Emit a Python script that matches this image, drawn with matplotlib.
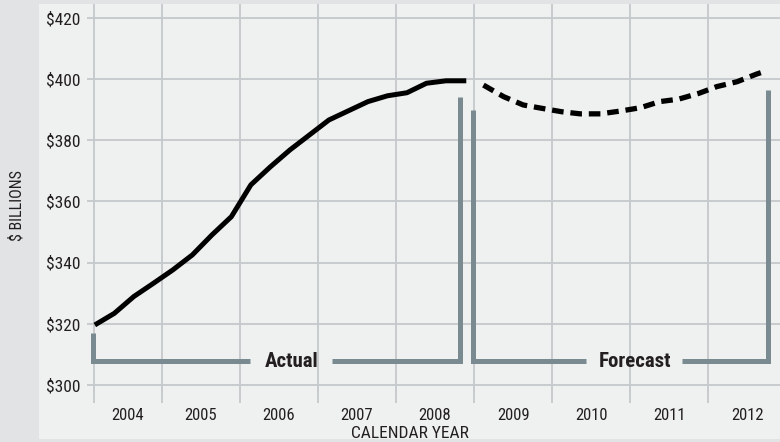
import matplotlib.pyplot as plt
from matplotlib import font_manager
from matplotlib.patches import Rectangle

# quarterly actuals and forecast, $ billions
actual_x = [2004.14, 2004.39, 2004.64, 2004.89, 2005.14, 2005.39, 2005.64, 2005.89,
            2006.14, 2006.39, 2006.64, 2006.89, 2007.14, 2007.39, 2007.64, 2007.89,
            2008.14, 2008.39, 2008.64, 2008.90]
actual_y = [319.6, 323.4, 328.9, 333.2, 337.6, 342.5, 349.0, 355.0,
            365.4, 371.3, 376.8, 381.7, 386.6, 389.6, 392.6, 394.5,
            395.5, 398.6, 399.4, 399.4]
forecast_x = [2009.12, 2009.38, 2009.63, 2009.87, 2010.12, 2010.36, 2010.62, 2010.87,
              2011.13, 2011.38, 2011.62, 2011.88, 2012.11, 2012.37, 2012.62, 2012.75]
forecast_y = [398.0, 394.2, 391.5, 390.4, 389.3, 388.6, 388.6, 389.5,
              390.6, 392.6, 393.4, 395.3, 397.5, 399.1, 401.6, 402.7]

years = ["2004", "2005", "2006", "2007", "2008", "2009", "2010", "2011", "2012"]
grid_x = [2004.13, 2005, 2006, 2007, 2008, 2009, 2010, 2011, 2012]
yticks = [300, 320, 340, 360, 380, 400, 420]

outer = "#e1e3e4"
panel = "#eff0f0"
gridc = "#c4c9cc"
bracket = "#798a90"
textc = "#231f20"


def pick_font(names):
    have = set(f.name for f in font_manager.fontManager.ttflist)
    for n in names:
        if n in have:
            return n
    return "DejaVu Sans"


font = pick_font(["Liberation Sans Narrow", "Roboto Condensed", "Liberation Sans"])
plt.rcParams["font.family"] = [font, "DejaVu Sans"]

fig = plt.figure(figsize=(7.8, 4.42), dpi=100, facecolor=outer)
fig.patches.append(Rectangle((39 / 780, 3 / 442), 1, 435 / 442, transform=fig.transFigure,
                             facecolor=panel, edgecolor="none", zorder=-5))

ax = fig.add_axes([87 / 780, 39 / 442, 693 / 780, 399 / 442])
ax.set_facecolor("none")
ax.set_xlim(2004.04, 2012.92)
ax.set_ylim(294.1, 424.5)
for s in ax.spines.values():
    s.set_visible(False)

ax.set_yticks(yticks)
ax.set_yticklabels(["$%d" % v for v in yticks], fontsize=12.5, color=textc)
ax.set_xticks(grid_x)
ax.set_xticklabels([])
mids = [(grid_x[i] + (grid_x[i + 1] if i + 1 < len(grid_x) else 2013)) / 2 for i in range(len(grid_x))]
ax.set_xticks(mids, minor=True)
ax.set_xticklabels(years, minor=True, fontsize=12, color=textc)
ax.tick_params(axis="both", which="both", length=0)
ax.tick_params(axis="y", pad=5)
ax.tick_params(axis="x", which="minor", pad=3.5)
ax.grid(True, which="major", color=gridc, linewidth=1.3)
ax.set_axisbelow(True)

ax.plot(actual_x, actual_y, color="black", linewidth=3.6, solid_capstyle="butt", zorder=3)
ax.plot(forecast_x, forecast_y, color="black", linewidth=3.8, linestyle=(0, (2.2, 1.3)),
        dash_capstyle="butt", zorder=3)

# brackets
by = 307.8
kw = dict(color=bracket, linewidth=3.6, solid_capstyle="butt", solid_joinstyle="miter", zorder=2)
ax.plot([2004.115, 2004.115, 2006.13], [317.0, by, by], **kw)
ax.plot([2007.18, 2008.82, 2008.82], [by, by, 394.2], **kw)
ax.plot([2008.99, 2008.99, 2010.44], [389.9, by, by], **kw)
ax.plot([2011.67, 2012.77, 2012.77], [by, by, 396.4], **kw)
ax.text(2006.667, by, "Actual", ha="center", va="center", fontsize=15,
        fontweight="bold", color=textc, zorder=4)
ax.text(2011.064, by, "Forecast", ha="center", va="center", fontsize=15,
        fontweight="bold", color=textc, zorder=4)

fig.text(410 / 780, 1 - 433 / 442, "CALENDAR YEAR", ha="center", va="center",
         fontsize=12.5, color=textc)
fig.text(17 / 780, 1 - 206 / 442, "$ BILLIONS", ha="center", va="center",
         rotation=90, fontsize=11.5, color=textc)

fig.savefig("out.png", dpi=100, facecolor=outer)
